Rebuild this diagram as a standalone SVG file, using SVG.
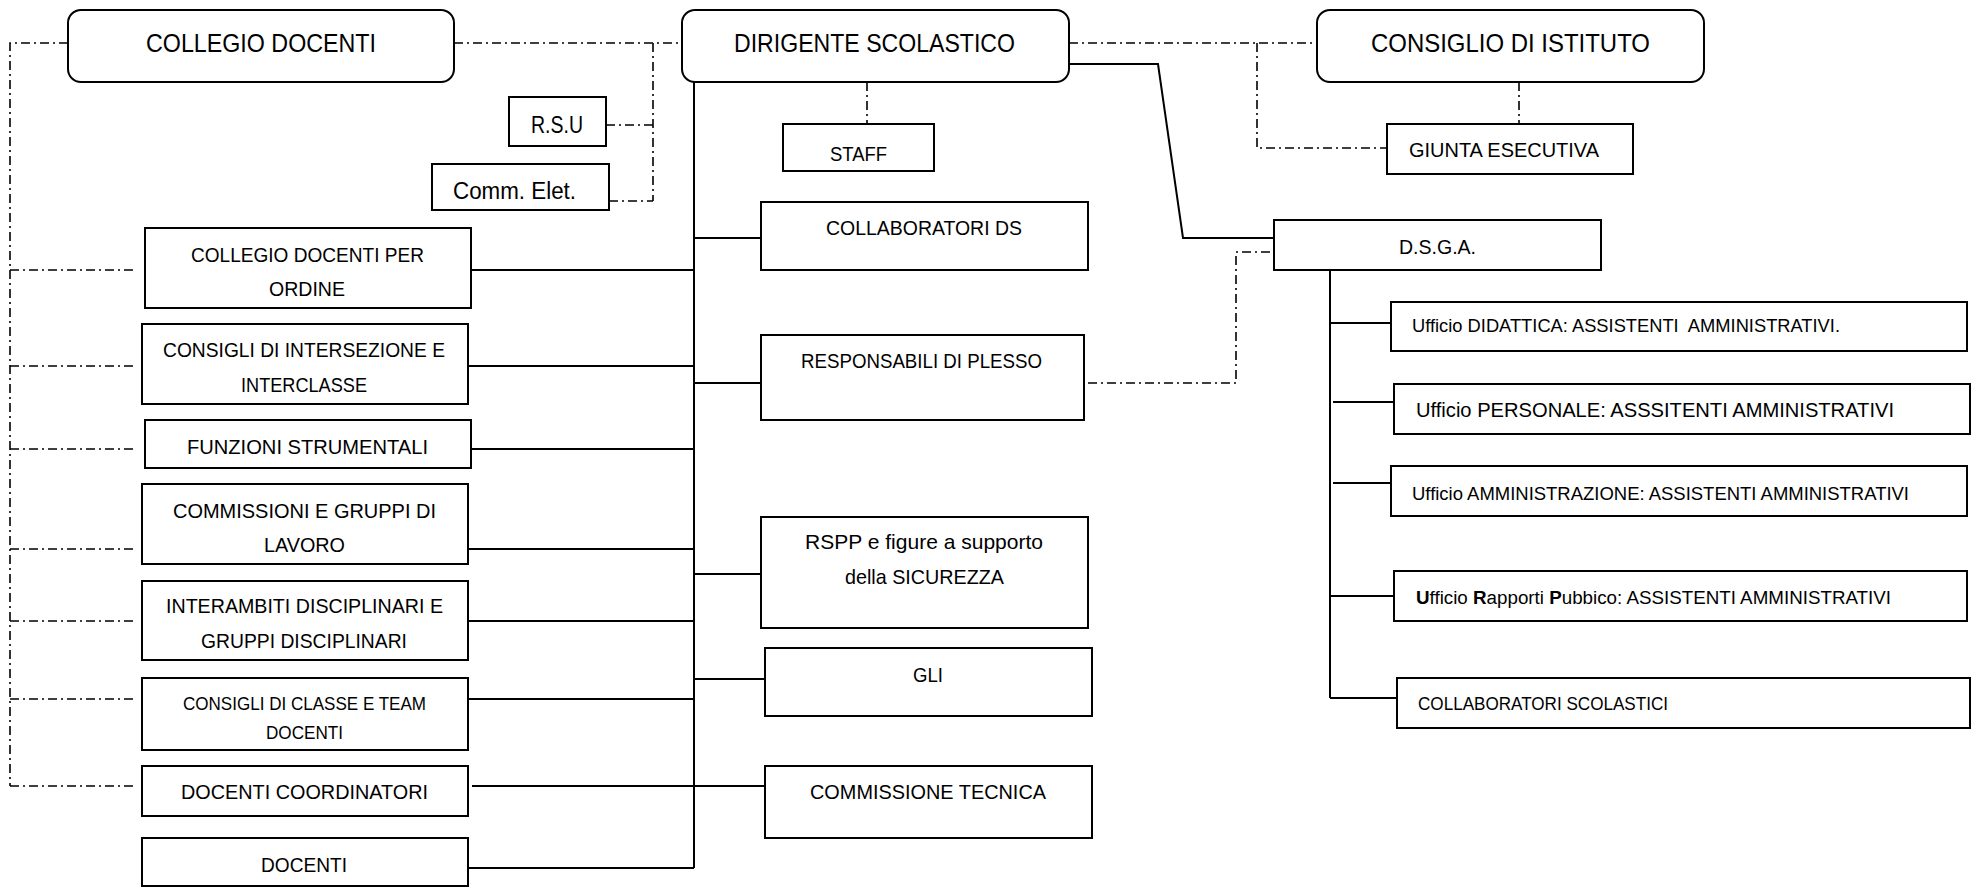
<svg xmlns="http://www.w3.org/2000/svg" width="1982" height="888" viewBox="0 0 1982 888">
<style>
.box{fill:#fff;stroke:#000;stroke-width:2}
.ln{fill:none;stroke:#000;stroke-width:2}
.dd{fill:none;stroke:#000;stroke-width:1.6;stroke-dasharray:9 4 2 4}
text{font-family:"Liberation Sans",Arial,sans-serif;fill:#000}
.t1{font-size:26px}
.t2{font-size:21px}
.t3{font-size:18px}
</style>
<rect width="1982" height="888" fill="#fff"/>
<g id="connectors">
<path class="ln" d="M694 82V868M471 270H694M468 366H694M471 449H694M468 549H694M468 621H694M468 699H694M472 786H765M468 868H694M694 238H761M694 383H761M694 574H761M694 679H765"/>
<path class="ln" d="M1069 64H1158L1183 238H1274"/>
<path class="ln" d="M1330 270V698M1330 323H1391M1333 402H1394M1333 483H1395M1330 596H1394M1330 698H1397"/>
<path class="dd" d="M68 43H10V786M10 270H136M10 366H136M10 449H136M10 549H136M10 621H136M10 699H136M10 786H136"/>
<path class="dd" d="M454 43H682M653 43V201M606 125H653M609 201H653"/>
<path class="dd" d="M1069 43H1317M1257 43V148H1387"/>
<path class="dd" d="M867 82V124M1519 82V124"/>
<path class="dd" d="M1088 383H1236V252H1274"/>
</g>
<g id="collegio-docenti"><rect class="box" x="68" y="10" width="386" height="72" rx="13"/><text class="t1" x="146" y="52" textLength="230" lengthAdjust="spacingAndGlyphs">COLLEGIO DOCENTI</text></g>
<g id="dirigente"><rect class="box" x="682" y="10" width="387" height="72" rx="13"/><text class="t1" x="734" y="52" textLength="281" lengthAdjust="spacingAndGlyphs">DIRIGENTE SCOLASTICO</text></g>
<g id="consiglio-istituto"><rect class="box" x="1317" y="10" width="387" height="72" rx="13"/><text class="t1" x="1371" y="52" textLength="279" lengthAdjust="spacingAndGlyphs">CONSIGLIO DI ISTITUTO</text></g>
<g id="rsu"><rect class="box" x="509" y="97" width="97" height="49"/><text x="531" y="133" font-size="23" textLength="52" lengthAdjust="spacingAndGlyphs">R.S.U</text></g>
<g id="comm-elet"><rect class="box" x="432" y="164" width="177" height="46"/><text x="453" y="199" font-size="23" textLength="123" lengthAdjust="spacingAndGlyphs">Comm. Elet.</text></g>
<g id="staff"><rect class="box" x="783" y="124" width="151" height="47"/><text class="t2" x="830" y="161" textLength="57" lengthAdjust="spacingAndGlyphs">STAFF</text></g>
<g id="giunta"><rect class="box" x="1387" y="124" width="246" height="50"/><text class="t2" x="1409" y="157" textLength="190" lengthAdjust="spacingAndGlyphs">GIUNTA ESECUTIVA</text></g>
<g id="dsga"><rect class="box" x="1274" y="220" width="327" height="50"/><text class="t2" x="1399" y="254" textLength="77" lengthAdjust="spacingAndGlyphs">D.S.G.A.</text></g>
<g id="collegio-ordine"><rect class="box" x="145" y="228" width="326" height="80"/><text class="t2" x="191" y="262" textLength="233" lengthAdjust="spacingAndGlyphs">COLLEGIO DOCENTI PER</text><text class="t2" x="269" y="296" textLength="76" lengthAdjust="spacingAndGlyphs">ORDINE</text></g>
<g id="consigli-intersezione"><rect class="box" x="142" y="324" width="326" height="80"/><text class="t2" x="163" y="357" textLength="282" lengthAdjust="spacingAndGlyphs">CONSIGLI DI INTERSEZIONE E</text><text class="t2" x="241" y="392" textLength="126" lengthAdjust="spacingAndGlyphs">INTERCLASSE</text></g>
<g id="funzioni"><rect class="box" x="145" y="420" width="326" height="48"/><text class="t2" x="187" y="454" textLength="241" lengthAdjust="spacingAndGlyphs">FUNZIONI STRUMENTALI</text></g>
<g id="commissioni"><rect class="box" x="142" y="484" width="326" height="80"/><text class="t2" x="173" y="518" textLength="263" lengthAdjust="spacingAndGlyphs">COMMISSIONI E GRUPPI DI</text><text class="t2" x="264" y="552" textLength="81" lengthAdjust="spacingAndGlyphs">LAVORO</text></g>
<g id="interambiti"><rect class="box" x="142" y="581" width="326" height="79"/><text class="t2" x="166" y="613" textLength="277" lengthAdjust="spacingAndGlyphs">INTERAMBITI DISCIPLINARI E</text><text class="t2" x="201" y="648" textLength="206" lengthAdjust="spacingAndGlyphs">GRUPPI DISCIPLINARI</text></g>
<g id="consigli-classe"><rect class="box" x="142" y="678" width="326" height="72"/><text class="t3" x="183" y="710" textLength="243" lengthAdjust="spacingAndGlyphs">CONSIGLI DI CLASSE E TEAM</text><text class="t3" x="266" y="739" textLength="77" lengthAdjust="spacingAndGlyphs">DOCENTI</text></g>
<g id="docenti-coordinatori"><rect class="box" x="142" y="766" width="326" height="50"/><text class="t2" x="181" y="799" textLength="247" lengthAdjust="spacingAndGlyphs">DOCENTI COORDINATORI</text></g>
<g id="docenti"><rect class="box" x="142" y="838" width="326" height="48"/><text class="t2" x="261" y="872" textLength="86" lengthAdjust="spacingAndGlyphs">DOCENTI</text></g>
<g id="collaboratori-ds"><rect class="box" x="761" y="202" width="327" height="68"/><text class="t2" x="826" y="235" textLength="196" lengthAdjust="spacingAndGlyphs">COLLABORATORI DS</text></g>
<g id="responsabili"><rect class="box" x="761" y="335" width="323" height="85"/><text class="t2" x="801" y="368" textLength="241" lengthAdjust="spacingAndGlyphs">RESPONSABILI DI PLESSO</text></g>
<g id="rspp"><rect class="box" x="761" y="517" width="327" height="111"/><text class="t2" x="805" y="549" textLength="238" lengthAdjust="spacingAndGlyphs">RSPP e figure a supporto</text><text class="t2" x="845" y="584" textLength="159" lengthAdjust="spacingAndGlyphs">della SICUREZZA</text></g>
<g id="gli"><rect class="box" x="765" y="648" width="327" height="68"/><text class="t2" x="913" y="682" textLength="30" lengthAdjust="spacingAndGlyphs">GLI</text></g>
<g id="commissione-tecnica"><rect class="box" x="765" y="766" width="327" height="72"/><text class="t2" x="810" y="799" textLength="236" lengthAdjust="spacingAndGlyphs">COMMISSIONE TECNICA</text></g>
<g id="ufficio-didattica"><rect class="box" x="1391" y="302" width="576" height="49"/><text class="t3" x="1412" y="332" textLength="428" lengthAdjust="spacingAndGlyphs" xml:space="preserve">Ufficio DIDATTICA: ASSISTENTI  AMMINISTRATIVI.</text></g>
<g id="ufficio-personale"><rect class="box" x="1394" y="384" width="576" height="50"/><text class="t2" x="1416" y="417" textLength="478" lengthAdjust="spacingAndGlyphs">Ufficio PERSONALE: ASSSITENTI AMMINISTRATIVI</text></g>
<g id="ufficio-amministrazione"><rect class="box" x="1391" y="466" width="576" height="50"/><text class="t3" x="1412" y="500" textLength="497" lengthAdjust="spacingAndGlyphs">Ufficio AMMINISTRAZIONE: ASSISTENTI AMMINISTRATIVI</text></g>
<g id="ufficio-rapporti"><rect class="box" x="1394" y="571" width="573" height="50"/><text class="t3" x="1416" y="604" textLength="475" lengthAdjust="spacingAndGlyphs"><tspan font-weight="bold">U</tspan>fficio <tspan font-weight="bold">R</tspan>apporti <tspan font-weight="bold">P</tspan>ubbico: ASSISTENTI AMMINISTRATIVI</text></g>
<g id="collaboratori-scolastici"><rect class="box" x="1397" y="678" width="573" height="50"/><text class="t3" x="1418" y="710" textLength="250" lengthAdjust="spacingAndGlyphs">COLLABORATORI SCOLASTICI</text></g>
</svg>
